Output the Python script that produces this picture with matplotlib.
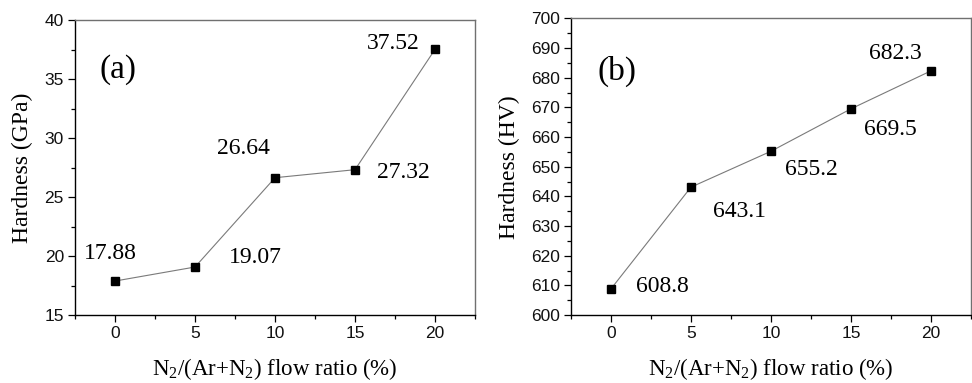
import matplotlib
matplotlib.use("Agg")
import matplotlib.pyplot as plt
from matplotlib.ticker import MultipleLocator

# data
ratio = [0, 5, 10, 15, 20]
hard_gpa = [17.88, 19.07, 26.64, 27.32, 37.52]
hard_hv = [608.8, 643.1, 655.2, 669.5, 682.3]
labels_gpa = ["17.88", "19.07", "26.64", "27.32", "37.52"]
labels_hv = ["608.8", "643.1", "655.2", "669.5", "682.3"]

# label anchor positions (data coords)
pos_gpa = [(-0.3, 20.25), (8.75, 19.85), (8.0, 29.15), (18.0, 27.1), (17.4, 38.05)]
pos_hv = [(3.2, 609.5), (8.05, 634.8), (12.55, 648.9), (17.45, 662.4), (17.75, 688.2)]

SERIF = "Liberation Serif"
SANS = "Liberation Sans"

plt.rcParams["mathtext.fontset"] = "custom"
plt.rcParams["mathtext.rm"] = SERIF
plt.rcParams["mathtext.it"] = SERIF

fig = plt.figure(figsize=(9.72, 3.83), dpi=100)
ax_a = fig.add_axes([0.0772, 0.1775, 0.4115, 0.770])
ax_b = fig.add_axes([0.5874, 0.1775, 0.4115, 0.7745])


def style_axes(ax, ylim, ymaj, ymin_step, ylabel, ylab_x):
    ax.set_xlim(-2.5, 22.5)
    ax.set_ylim(*ylim)
    ax.xaxis.set_major_locator(MultipleLocator(5))
    ax.xaxis.set_minor_locator(MultipleLocator(2.5))
    ax.yaxis.set_major_locator(MultipleLocator(ymaj))
    ax.yaxis.set_minor_locator(MultipleLocator(ymin_step))
    ax.tick_params(which="major", direction="out", length=5, width=0.9, color="black",
                   labelsize=12.5, pad=3, labelcolor="#111111", top=False, right=False)
    ax.tick_params(which="minor", direction="out", length=3, width=0.9, color="black",
                   top=False, right=False)
    for lab in ax.get_xticklabels() + ax.get_yticklabels():
        lab.set_fontfamily(SANS)
    for side in ("left", "bottom"):
        ax.spines[side].set_color("black")
        ax.spines[side].set_linewidth(1.0)
    for side in ("top", "right"):
        ax.spines[side].set_color("#707070")
        ax.spines[side].set_linewidth(1.0)
    ax.set_ylabel(ylabel, fontsize=17, family=SERIF)
    ax.yaxis.set_label_coords(ylab_x, 0.5)
    ax.set_xlabel(r"N$_2$/(Ar+N$_2$) flow ratio (%)", fontsize=16.5, family=SERIF)
    ax.xaxis.set_label_coords(0.5, -0.14)


ax_a.plot(ratio, hard_gpa, color="#7a7a7a", lw=0.8, marker="s", ms=5.2,
          mfc="black", mec="black")
style_axes(ax_a, (15, 40), 5, 2.5, "Hardness (GPa)", -0.105)
for (x, y), t in zip(pos_gpa, labels_gpa):
    ax_a.text(x, y, t, fontsize=17, family=SERIF, ha="center", va="center")
ax_a.text(0.2, 35.8, "(a)", fontsize=24, family=SERIF, ha="center", va="center")

ax_b.plot(ratio, hard_hv, color="#7a7a7a", lw=0.8, marker="s", ms=5.2,
          mfc="black", mec="black")
style_axes(ax_b, (600, 700), 10, 5, "Hardness (HV)", -0.128)
for (x, y), t in zip(pos_hv, labels_hv):
    ax_b.text(x, y, t, fontsize=17, family=SERIF, ha="center", va="center")
ax_b.text(0.35, 682, "(b)", fontsize=24, family=SERIF, ha="center", va="center")

fig.savefig("out.png", dpi=100)
